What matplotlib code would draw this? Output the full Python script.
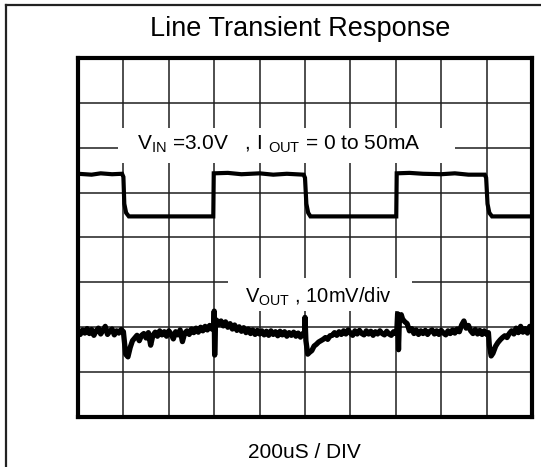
import matplotlib
matplotlib.use("Agg")
import matplotlib.pyplot as plt
from matplotlib.patches import Rectangle
from matplotlib.lines import Line2D

plt.rcParams['font.family'] = ['Liberation Sans', 'DejaVu Sans']
plt.rcParams['mathtext.fontset'] = 'custom'
plt.rcParams['mathtext.rm'] = 'Liberation Sans'
plt.rcParams['mathtext.it'] = 'Liberation Sans'

# ---- data (x in divisions of 200uS, y in vertical divisions) ----
title = "Line Transient Response"
xlabel = "200uS / DIV"
vin_label = r"V$_{\rm IN}$ =3.0V   , I $_{\rm OUT}$ = 0 to 50mA"
vout_label = r"V$_{\rm OUT}$ , 10mV/div"

vin_x = [0.00, 0.30, 0.50, 0.75, 0.97, 1.00, 1.02, 1.06, 1.12, 2.00, 2.98, 2.99,
         3.30, 3.60, 4.00, 4.30, 4.60, 4.97, 5.00, 5.03, 5.07, 5.12, 6.00, 7.01, 7.02,
         7.30, 7.60, 8.00, 8.30, 8.60, 8.96, 8.99, 9.02, 9.06, 9.12, 10.00]
vin_y = [5.42, 5.40, 5.43, 5.41, 5.42, 5.35, 4.75, 4.55, 4.47, 4.47, 4.47, 5.43,
         5.44, 5.41, 5.43, 5.40, 5.42, 5.40, 5.33, 4.75, 4.55, 4.47, 4.47, 4.47, 5.43,
         5.44, 5.42, 5.41, 5.43, 5.40, 5.40, 5.33, 4.75, 4.55, 4.47, 4.47]

vout_x = [0.00, 0.05, 0.10, 0.15, 0.20, 0.25, 0.30, 0.35, 0.40, 0.45, 0.50, 0.55, 0.60,
          0.65, 0.70, 0.75, 0.80, 0.85, 0.90, 0.95, 1.00,
          1.05, 1.10, 1.15, 1.20, 1.25, 1.30, 1.35, 1.40, 1.45, 1.50, 1.55, 1.60, 1.65,
          1.70, 1.75, 1.80, 1.85, 1.90, 1.95, 2.00, 2.05, 2.10, 2.15, 2.20, 2.25, 2.30,
          2.35, 2.40, 2.45, 2.50, 2.55, 2.60, 2.65, 2.70, 2.75, 2.80, 2.85, 2.90, 2.95,
          2.99, 3.00, 3.01, 3.03,
          3.05, 3.10, 3.15, 3.20, 3.25, 3.30, 3.35, 3.40, 3.45, 3.50, 3.55, 3.60, 3.65,
          3.70, 3.75, 3.80, 3.85, 3.90, 3.95, 4.00, 4.05, 4.10, 4.15, 4.20, 4.25, 4.30,
          4.35, 4.40, 4.45, 4.50, 4.55, 4.60, 4.65, 4.70, 4.75, 4.80, 4.85, 4.90, 4.95,
          4.99, 5.00, 5.02, 5.06, 5.10,
          5.15, 5.20, 5.25, 5.30, 5.35, 5.40, 5.45, 5.50, 5.55, 5.60, 5.65, 5.70, 5.75,
          5.80, 5.85, 5.90, 5.95, 6.00, 6.05, 6.10, 6.15, 6.20, 6.25, 6.30, 6.35, 6.40,
          6.45, 6.50, 6.55, 6.60, 6.65, 6.70, 6.75, 6.80, 6.85, 6.90, 6.95, 7.00,
          7.02, 7.04, 7.06, 7.08, 7.12,
          7.15, 7.20, 7.25, 7.30, 7.35, 7.40, 7.45, 7.50, 7.55, 7.60, 7.65, 7.70, 7.75,
          7.80, 7.85, 7.90, 7.95, 8.00, 8.05, 8.10, 8.15, 8.20, 8.25, 8.30, 8.35, 8.40,
          8.45, 8.50, 8.55, 8.60, 8.65, 8.70, 8.75, 8.80, 8.85, 8.90, 8.95, 9.00,
          9.04, 9.06, 9.10, 9.14,
          9.20, 9.25, 9.30, 9.35, 9.40, 9.45, 9.50, 9.55, 9.60, 9.65, 9.70, 9.75, 9.80,
          9.85, 9.90, 9.95, 10.00]
vout_y = [1.90, 1.84, 1.94, 1.87, 1.97, 1.86, 1.95, 1.82, 1.92, 1.98, 1.85, 1.93, 2.02,
          1.84, 1.91, 1.96, 1.83, 1.92, 1.87, 1.95, 1.90,
          1.40, 1.34, 1.55, 1.70, 1.76, 1.82, 1.70, 1.82, 1.86, 1.76, 1.88, 1.60, 1.82,
          1.89, 1.80, 1.92, 1.83, 1.90, 1.80, 1.92, 1.85, 1.74, 1.90, 1.83, 1.94, 1.68,
          1.87, 1.92, 1.84, 1.96, 1.88, 1.98, 1.89, 2.00, 1.92, 2.02, 1.94, 2.04, 1.96,
          1.96, 2.36, 1.38, 2.14,
          2.16, 2.06, 2.14, 2.03, 2.12, 2.00, 2.08, 1.96, 2.05, 1.93, 2.01, 1.91, 1.99,
          1.88, 1.96, 1.86, 1.94, 1.84, 1.93, 1.85, 1.92, 1.83, 1.91, 1.82, 1.92, 1.84,
          1.90, 1.81, 1.91, 1.83, 1.90, 1.80, 1.88, 1.82, 1.89, 1.80, 1.87, 1.78, 1.86,
          1.82, 2.22, 1.70, 1.40, 1.44,
          1.48, 1.58, 1.62, 1.67, 1.70, 1.73, 1.77, 1.73, 1.81, 1.82, 1.88, 1.82, 1.90,
          1.84, 1.92, 1.85, 1.94, 1.87, 1.82, 1.92, 1.85, 1.93, 1.86, 1.83, 1.92, 1.85,
          1.91, 1.82, 1.90, 1.85, 1.92, 1.86, 1.83, 1.91, 1.85, 1.82, 1.90, 1.86,
          1.88, 2.30, 1.50, 2.22, 2.28,
          2.18, 2.12, 2.08, 1.92, 1.97, 1.86, 1.94, 1.84, 1.92, 1.86, 1.93, 1.84, 1.91,
          1.94, 1.85, 1.92, 1.84, 1.93, 1.87, 1.83, 1.92, 1.86, 1.94, 1.87, 1.96, 1.90,
          2.05, 2.14, 1.98, 2.04, 1.92, 1.86, 1.95, 1.85, 1.93, 1.84, 1.92, 1.84,
          1.88, 1.60, 1.36, 1.42,
          1.58, 1.66, 1.72, 1.77, 1.81, 1.77, 1.86, 1.92, 1.85, 1.98, 1.88, 2.02, 1.89,
          1.97, 1.87, 2.02, 1.92]

# ---- figure ----
W, H = 541, 467
fig = plt.figure(figsize=(W / 100, H / 100), dpi=100)
fig.patch.set_facecolor('white')

# outer border (left & top visible)
fig.add_artist(Line2D([6 / W, 6 / W], [0, 1 - 5 / H], color='#222222', lw=1.6))
fig.add_artist(Line2D([6 / W, 1], [1 - 5 / H, 1 - 5 / H], color='#222222', lw=1.6))

L, R, T, B = 78, 532, 58, 417
ax = fig.add_axes([L / W, 1 - B / H, (R - L) / W, (B - T) / H])
ax.set_xlim(0, 10)
ax.set_ylim(0, 8)
ax.set_xticks(range(1, 10))
ax.set_yticks(range(1, 8))
ax.tick_params(length=0, labelbottom=False, labelleft=False)
ax.grid(True, color='#1e1e1e', lw=1.1)
ax.set_axisbelow(True)
for s in ax.spines.values():
    s.set_linewidth(3.0)
    s.set_color('black')
    s.set_zorder(5)

# white label boxes
ax.add_patch(Rectangle((0.88, 5.66), 7.42, 0.78, facecolor='white', edgecolor='none', zorder=1))
ax.add_patch(Rectangle((3.30, 2.37), 4.06, 0.72, facecolor='white', edgecolor='none', zorder=1))

ax.plot(vin_x, vin_y, color='black', lw=3.0, solid_joinstyle='miter', zorder=3)
ax.plot(vout_x, vout_y, color='black', lw=3.8, zorder=3)

ax.text(1.30, 5.95, vin_label, fontsize=15, ha='left', va='baseline', zorder=4)
ax.text(3.68, 2.54, vout_label, fontsize=14.5, ha='left', va='baseline', zorder=4)

fig.text(300 / W, 1 - 29 / H, title, fontsize=19.5, ha='center', va='center')
fig.text(304 / W, 1 - 452 / H, xlabel, fontsize=15, ha='center', va='center')

fig.savefig("out.png", dpi=100)
